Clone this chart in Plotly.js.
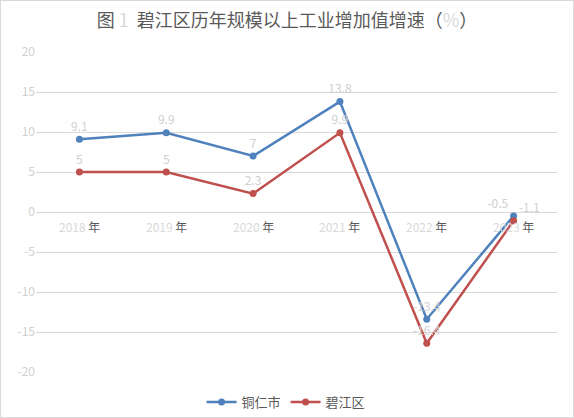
<!DOCTYPE html>
<html><head><meta charset="utf-8">
<script src="https://cdn.plot.ly/plotly-3.0.1.min.js"></script>
<style>body{margin:0;padding:0;background:#fff}#c{width:572px;height:416px;border:1px solid #d9d9d9}</style>
</head><body><div id="c"></div>
<script>
const years = ['2018', '2019', '2020', '2021', '2022', '2023'];
const tongren = [9.1, 9.9, 7, 13.8, -13.4, -0.5];
const bijiang = [5, 5, 2.3, 9.9, -16.4, -1.1];
const seriesNames = ['铜仁市', '碧江区'];
const yTicks = [-20, -15, -10, -5, 0, 5, 10, 15, 20];

const cats = years.map(y => y + '年');
const light = '#d0d0d0';
const dark = '#595959';
const font = '"Noto Sans CJK SC", "DejaVu Sans", sans-serif';

const blueTP = ['top center','top center','top center','top center','top center','top left'];
const redTP = ['top center','top center','top center','top center','top center','top right'];

const traces = [
  {x: cats, y: tongren, name: seriesNames[0], type: 'scatter', mode: 'lines+markers+text',
   line: {color: '#4F81BD', width: 2.5}, marker: {color: '#4F81BD', size: 7},
   text: tongren.map(String), textposition: blueTP, textfont: {color: light, size: 12, family: font},
   cliponaxis: false},
  {x: cats, y: bijiang, name: seriesNames[1], type: 'scatter', mode: 'lines+markers+text',
   line: {color: '#C0504D', width: 2.5}, marker: {color: '#C0504D', size: 7},
   text: bijiang.map(String), textposition: redTP, textfont: {color: light, size: 12, family: font},
   cliponaxis: false}
];

const xLabels = cats.map((c, i) => ({
  x: c, y: 0, xref: 'x', yref: 'y', yanchor: 'top', yshift: -4, showarrow: false,
  text: '<span style="color:#d9d9d9">' + years[i] + '</span> 年',
  font: {size: 12, color: dark, family: font}
}));

const layout = {
  width: 572, height: 416,
  margin: {l: 35, r: 16, t: 51, b: 0},
  paper_bgcolor: '#fff', plot_bgcolor: '#fff',
  font: {family: font, color: dark, size: 12},
  title: {text: '图 <span style="color:#d9d9d9">1</span>  碧江区历年规模以上工业增加值增速（<span style="color:#d9d9d9">%</span>）',
          x: 0.5, xref: 'container', xanchor: 'center', y: 0.952, yref: 'container', yanchor: 'middle',
          font: {size: 18, color: dark, family: font}},
  xaxis: {type: 'category', range: [-0.5, 5.5], showticklabels: false, showgrid: false, zeroline: false,
          showline: false, ticks: '', fixedrange: true, automargin: false},
  yaxis: {domain: [0.1233, 1], range: [-20, 20], tickvals: yTicks, ticktext: yTicks.map(String), showgrid: true,
          gridcolor: '#d9d9d9', gridwidth: 1, zeroline: true, zerolinecolor: '#d9d9d9', zerolinewidth: 1,
          showline: false, ticks: '', tickfont: {size: 12, color: light, family: font}, fixedrange: true,
          automargin: false},
  annotations: xLabels,
  showlegend: true,
  legend: {orientation: 'h', x: 0.48, xanchor: 'center', y: 0, yanchor: 'bottom',
           font: {size: 13, color: dark, family: font}, tracegroupgap: 0}
};

Plotly.newPlot('c', traces, layout, {displayModeBar: false, staticPlot: true});
</script></body></html>
